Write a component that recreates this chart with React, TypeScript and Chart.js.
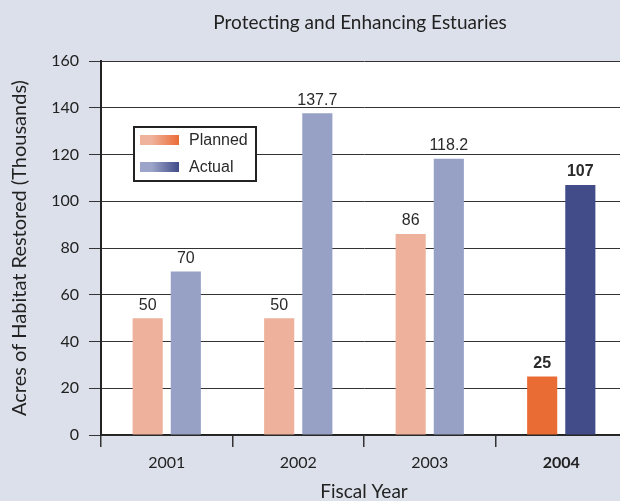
import React, { useEffect, useRef } from 'react';
import { Chart, registerables } from 'chart.js';

Chart.register(...registerables);

const categories = ['2001', '2002', '2003', '2004'];
const planned = [50, 50, 86, 25];
const actual = [70, 137.7, 118.2, 107];
const plannedLabels = ['50', '50', '86', '25'];
const actualLabels = ['70', '137.7', '118.2', '107'];
const seriesNames = ['Planned', 'Actual'];
const plannedColors = ['#EEB19B', '#EEB19B', '#EEB19B', '#EA6C35'];
const actualColors = ['#97A1C6', '#97A1C6', '#97A1C6', '#414C88'];
const chartTitle = 'Protecting and Enhancing Estuaries';
const yTitle = 'Acres of Habitat Restored (Thousands)';
const xTitle = 'Fiscal Year';

const BG = '#DCE0EA';
const GILL = 'Lato, "Open Sans", sans-serif';
const HELV = '"Liberation Sans", Arial, sans-serif';

const backgroundPlugin = {
  id: 'bgPlugin',
  beforeDraw(chart: any) {
    const { ctx, chartArea } = chart;
    ctx.save();
    ctx.fillStyle = BG;
    ctx.fillRect(0, 0, chart.width, chart.height);
    ctx.fillStyle = '#ffffff';
    ctx.fillRect(chartArea.left, chartArea.top, chartArea.right - chartArea.left, chartArea.bottom - chartArea.top);
    ctx.restore();
  },
};

const titlePlugin = {
  id: 'titlePlugin',
  afterDraw(chart: any) {
    const { ctx } = chart;
    ctx.save();
    ctx.fillStyle = '#222';
    ctx.font = `19px ${GILL}`;
    ctx.textAlign = 'center';
    ctx.textBaseline = 'middle';
    ctx.fillText(chartTitle, 360, 23);
    ctx.restore();
  },
};

const valueLabelPlugin = {
  id: 'valueLabels',
  afterDatasetsDraw(chart: any) {
    const { ctx } = chart;
    const labelSets = [plannedLabels, actualLabels];
    ctx.save();
    ctx.fillStyle = '#2a2a2a';
    ctx.textAlign = 'center';
    ctx.textBaseline = 'middle';
    chart.data.datasets.forEach((_: any, di: number) => {
      const meta = chart.getDatasetMeta(di);
      meta.data.forEach((bar: any, i: number) => {
        const bold = i === 3;
        ctx.font = `${bold ? 'bold ' : ''}16px ${HELV}`;
        ctx.fillText(labelSets[di][i], bar.x, bar.y - 13);
      });
    });
    ctx.restore();
  },
};

const legendPlugin = {
  id: 'customLegend',
  afterDraw(chart: any) {
    const { ctx } = chart;
    const bx = 134, by = 127, bw = 122, bh = 54;
    ctx.save();
    ctx.fillStyle = '#ffffff';
    ctx.fillRect(bx, by, bw, bh);
    ctx.strokeStyle = '#222';
    ctx.lineWidth = 2;
    ctx.strokeRect(bx, by, bw, bh);
    const swatches = [
      { y: 135, from: '#EFB29C', to: '#EA6C35' },
      { y: 162, from: '#9CA4C9', to: '#404C88' },
    ];
    swatches.forEach((s, i) => {
      const g = ctx.createLinearGradient(140, 0, 179, 0);
      g.addColorStop(0, s.from);
      g.addColorStop(0.3, s.from);
      g.addColorStop(1, s.to);
      ctx.fillStyle = g;
      ctx.fillRect(140, s.y, 39, 10);
      ctx.fillStyle = '#2a2a2a';
      ctx.font = `16px ${HELV}`;
      ctx.textAlign = 'left';
      ctx.textBaseline = 'middle';
      ctx.fillText(seriesNames[i], 189, s.y + 6);
    });
    ctx.restore();
  },
};

export default function App() {
  const canvasRef = useRef<HTMLCanvasElement | null>(null);

  useEffect(() => {
    if (!canvasRef.current) return;
    const chart = new Chart(canvasRef.current, {
      type: 'bar',
      data: {
        labels: categories,
        datasets: [
          {
            label: seriesNames[0],
            data: planned,
            backgroundColor: plannedColors,
            borderWidth: 0,
            categoryPercentage: 0.58,
            barPercentage: 0.79,
          },
          {
            label: seriesNames[1],
            data: actual,
            backgroundColor: actualColors,
            borderWidth: 0,
            categoryPercentage: 0.58,
            barPercentage: 0.79,
          },
        ],
      },
      options: {
        responsive: false,
        animation: false,
        devicePixelRatio: 1,
        layout: { padding: { left: 0, right: 13, top: 61, bottom: 0 } },
        plugins: {
          legend: { display: false },
          title: { display: false },
          tooltip: { enabled: false },
        },
        scales: {
          x: {
            afterFit: (s: any) => {
              s.height = 66;
            },
            grid: {
              display: true,
              drawOnChartArea: false,
              drawTicks: true,
              tickLength: 12,
              offset: true,
              color: '#333',
              lineWidth: 1.5,
            },
            border: { display: true, color: '#222', width: 1.5 },
            ticks: {
              color: '#222',
              padding: 6,
              font: (c: any) => ({ family: GILL, size: 16, weight: c.index === 3 ? 'bold' : 'normal' }),
            },
            title: {
              display: true,
              text: xTitle,
              color: '#222',
              font: { family: GILL, size: 19, lineHeight: 1 },
              padding: { top: 0, bottom: 0 },
            },
          },
          y: {
            min: 0,
            max: 160,
            afterFit: (s: any) => {
              s.width = 101;
            },
            ticks: {
              stepSize: 20,
              color: '#222',
              padding: 10,
              font: { family: GILL, size: 16 },
            },
            grid: {
              color: '#333',
              lineWidth: 1,
              drawTicks: true,
              tickLength: 12,
            },
            border: { display: true, color: '#222', width: 2 },
            title: {
              display: true,
              text: yTitle,
              color: '#222',
              font: { family: GILL, size: 20, lineHeight: 1 },
              padding: { top: 10, bottom: 0 },
            },
          },
        },
      },
      plugins: [backgroundPlugin, valueLabelPlugin, legendPlugin, titlePlugin],
    } as any);
    return () => chart.destroy();
  }, []);

  return (
    <div
      style={{
        position: 'fixed',
        left: 0,
        top: 0,
        width: 620,
        height: 501,
        overflow: 'hidden',
        background: BG,
      }}
    >
      <canvas ref={canvasRef} width={640} height={501} style={{ display: 'block', width: 640, height: 501 }} />
    </div>
  );
}
